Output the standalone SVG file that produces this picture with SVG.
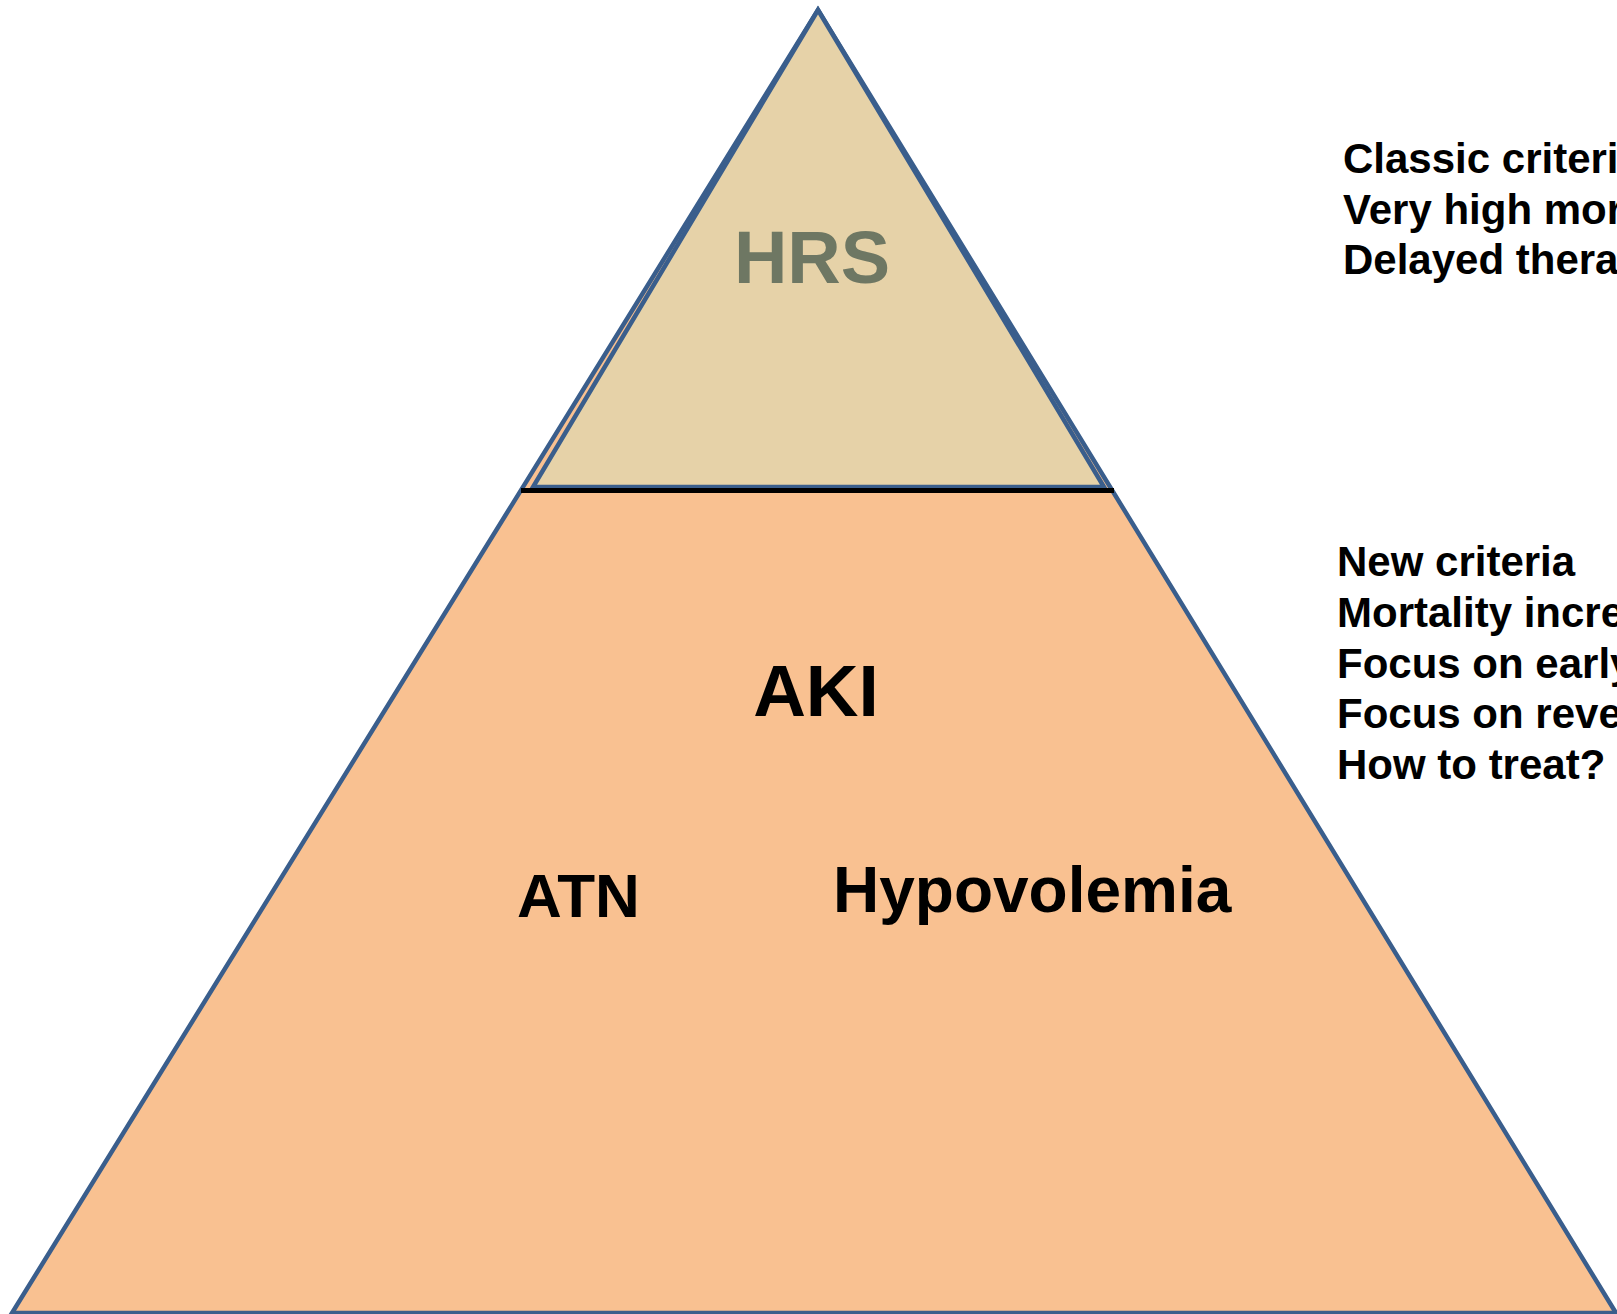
<svg xmlns="http://www.w3.org/2000/svg" width="1617" height="1314" viewBox="0 0 1617 1314">
  <style>
    .tri { stroke: #3A5E8C; stroke-width: 4.5; stroke-linejoin: miter; }
    .lbl { font-family: "Liberation Sans", Arial, sans-serif; font-weight: bold; fill: #000; }
    .side { font-family: "Liberation Sans", Arial, sans-serif; font-weight: bold; font-size: 42px; fill: #000; }
  </style>
  <rect width="1617" height="1314" fill="#FFFFFF"/>
  <g id="aki">
    <path class="tri" d="M818,10 L12,1313 L1616,1313 Z" fill="#F9C191"/>
    <text class="lbl" x="816" y="716" font-size="73" text-anchor="middle">AKI</text>
  </g>
  <g id="hrs">
    <path class="tri" d="M818,10 L533,487 L1104,487 Z" fill="#E6D2A8"/>
    <text class="lbl" x="812" y="283" font-size="74" text-anchor="middle" style="fill:#6E7763">HRS</text>
  </g>
  <g id="connectors">
    <line x1="521" y1="490.5" x2="1114" y2="490.5" stroke="#000" stroke-width="5"/>
  </g>
  <g id="atn">
    <text class="lbl" x="517" y="917" font-size="62">ATN</text>
  </g>
  <g id="hypovolemia">
    <text class="lbl" x="833" y="912" font-size="64">Hypovolemia</text>
  </g>
  <g id="hrs-notes">
    <text class="side" x="1343" y="173">Classic criteri</text>
    <text class="side" x="1343" y="224">Very high mor</text>
    <text class="side" x="1343" y="274">Delayed thera</text>
  </g>
  <g id="aki-notes">
    <text class="side" x="1337" y="576">New criteria</text>
    <text class="side" x="1337" y="627">Mortality incre</text>
    <text class="side" x="1337" y="678">Focus on early</text>
    <text class="side" x="1337" y="728">Focus on reve</text>
    <text class="side" x="1337" y="779">How to treat?</text>
  </g>
</svg>
